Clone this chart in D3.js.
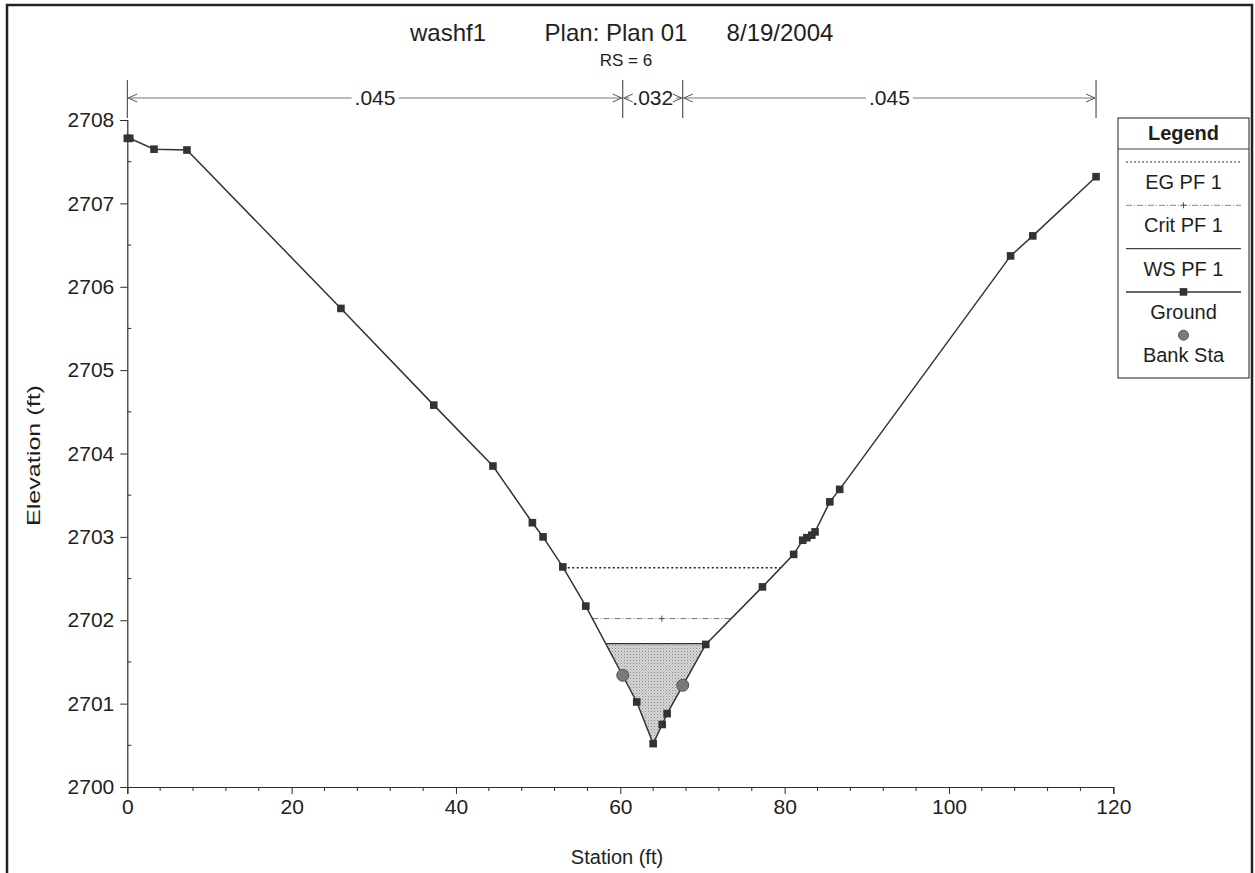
<!DOCTYPE html>
<html>
<head>
<meta charset="utf-8">
<script src="https://cdn.jsdelivr.net/npm/d3@7/dist/d3.min.js"></script>
<style>
  html, body { margin: 0; padding: 0; background: #fff; }
  svg { display: block; font-family: "Liberation Sans", Arial, sans-serif; }
</style>
</head>
<body>
<svg id="chart" width="1255" height="873"></svg>
<script>
// Cross section RS = 6: ground survey points (station ft, elevation ft)
const groundStation = [0, 0.3, 3.25, 7.26, 26.0, 37.3, 44.5, 49.3, 50.6, 53.0, 55.8, 62.0, 64.0, 65.1, 65.7, 70.4, 77.3, 81.1, 82.2, 82.7, 83.3, 83.7, 85.5, 86.7, 107.5, 110.2, 117.9];
const groundElev    = [2707.78, 2707.78, 2707.65, 2707.64, 2705.74, 2704.58, 2703.85, 2703.17, 2703.00, 2702.64, 2702.17, 2701.02, 2700.52, 2700.75, 2700.88, 2701.71, 2702.40, 2702.79, 2702.96, 2702.99, 2703.02, 2703.06, 2703.42, 2703.57, 2706.37, 2706.61, 2707.32];

// Bank stations
const bankStation = [60.3, 67.6];
const bankElev    = [2701.34, 2701.22];

// Profile PF 1 water levels
const wsElev   = 2701.72;  // WS PF 1
const critElev = 2702.02;  // Crit PF 1
const egElev   = 2702.63;  // EG PF 1

// Manning's n breaks
const nBreaks = [0, 60.3, 67.6, 117.9];
const nValues = [".045", ".032", ".045"];

// Axis ticks
const xTicks = [0, 20, 40, 60, 80, 100, 120];
const yTicks = [2700, 2701, 2702, 2703, 2704, 2705, 2706, 2707, 2708];

const legendItems = ["EG PF 1", "Crit PF 1", "WS PF 1", "Ground", "Bank Sta"];

const svg = d3.select("#chart");
const ink = "#2b2b2b";
const txt = "#1e1e1e";

const x = d3.scaleLinear().domain([0, 120]).range([127.3, 1113.3]);
const y = d3.scaleLinear().domain([2700, 2708]).range([787, 120]);

const ground = groundStation.map((s, i) => ({ s, e: groundElev[i] }));

// Where a level line meets the ground on each side of the thalweg
function crossings(level) {
  const minI = d3.minIndex(ground, d => d.e);
  let left = ground[0].s, right = ground[ground.length - 1].s;
  for (let i = minI; i > 0; i--) {
    const a = ground[i - 1], b = ground[i];
    if (a.e >= level && b.e <= level) { left = a.s + (b.s - a.s) * (a.e - level) / (a.e - b.e); break; }
  }
  for (let i = minI; i < ground.length - 1; i++) {
    const a = ground[i], b = ground[i + 1];
    if (a.e <= level && b.e >= level) { right = a.s + (b.s - a.s) * (level - a.e) / (b.e - a.e); break; }
  }
  return [left, right];
}

// Outer frame
svg.append("rect").attr("x", 7).attr("y", 5).attr("width", 1245).attr("height", 880)
  .attr("fill", "none").attr("stroke", "#222").attr("stroke-width", 2.5);

// Stipple pattern for the wetted area
const defs = svg.append("defs");
const pat = defs.append("pattern").attr("id", "stipple").attr("patternUnits", "userSpaceOnUse")
  .attr("width", 3).attr("height", 3);
pat.append("rect").attr("width", 3).attr("height", 3).attr("fill", "#d6d6d6");
pat.append("rect").attr("x", 0).attr("y", 0).attr("width", 1).attr("height", 1).attr("fill", "#8a8a8a");
pat.append("rect").attr("x", 1.5).attr("y", 1.5).attr("width", 1).attr("height", 1).attr("fill", "#a8a8a8");

// Title
const title = svg.append("g").attr("font-size", 24).attr("fill", txt).attr("text-anchor", "middle");
title.append("text").attr("x", 448).attr("y", 41).text("washf1");
title.append("text").attr("x", 616).attr("y", 41).text("Plan: Plan 01");
title.append("text").attr("x", 780).attr("y", 41).text("8/19/2004");
svg.append("text").attr("x", 626).attr("y", 66).attr("text-anchor", "middle")
  .attr("font-size", 17).attr("fill", txt).text("RS = 6");

// Axes
const xAxis = d3.axisBottom(x).tickValues(xTicks).tickSize(7).tickPadding(5).tickFormat(d3.format("d"));
const gx = svg.append("g").attr("transform", `translate(0,${y(2700)})`).call(xAxis);
gx.select(".domain").attr("stroke", ink).attr("stroke-width", 1.2);
gx.selectAll(".tick line").attr("stroke", ink);
gx.selectAll(".tick text").attr("font-size", 21).attr("fill", txt).attr("font-family", "Liberation Sans, Arial, sans-serif");
const xMinor = d3.range(0, 121, 4).filter(v => v % 20 !== 0);
svg.append("g").selectAll("line").data(xMinor).join("line")
  .attr("x1", d => x(d)).attr("x2", d => x(d)).attr("y1", y(2700)).attr("y2", y(2700) + 4)
  .attr("stroke", ink);

const yAxis = d3.axisLeft(y).tickValues(yTicks).tickSize(7).tickPadding(6).tickFormat(d3.format("d"));
const gy = svg.append("g").attr("transform", `translate(${x(0)},0)`).call(yAxis);
gy.select(".domain").attr("stroke", ink).attr("stroke-width", 1.2);
gy.selectAll(".tick line").attr("stroke", ink);
gy.selectAll(".tick text").attr("font-size", 21).attr("fill", txt).attr("font-family", "Liberation Sans, Arial, sans-serif");
const yMinor = d3.range(2700.5, 2708, 1);
svg.append("g").selectAll("line").data(yMinor).join("line")
  .attr("x1", x(0)).attr("x2", x(0) + 4).attr("y1", d => y(d)).attr("y2", d => y(d))
  .attr("stroke", ink);

svg.append("text").attr("transform", `translate(40,${(y(2700) + y(2708)) / 2 + 2}) rotate(-90)`)
  .attr("text-anchor", "middle").attr("font-size", 18).attr("fill", txt)
  .attr("textLength", 141).attr("lengthAdjust", "spacingAndGlyphs").text("Elevation (ft)");
svg.append("text").attr("x", 617).attr("y", 864).attr("text-anchor", "middle")
  .attr("font-size", 20).attr("fill", txt).text("Station (ft)");

// Manning's n band
const nY = 98;
const nG = svg.append("g");
nBreaks.forEach(b => {
  nG.append("line").attr("x1", x(b)).attr("x2", x(b)).attr("y1", 80).attr("y2", 118)
    .attr("stroke", "#333").attr("stroke-width", 1);
});
function arrowHead(g, px, dir) {
  g.append("path")
    .attr("d", `M${px + dir * 9},${nY - 4} L${px},${nY} L${px + dir * 9},${nY + 4}`)
    .attr("fill", "none").attr("stroke", "#555").attr("stroke-width", 1);
}
nValues.forEach((v, i) => {
  const a = x(nBreaks[i]) + 1, b = x(nBreaks[i + 1]) - 1;
  const mid = (a + b) / 2;
  const t = nG.append("text").attr("x", mid).attr("y", nY + 7).attr("text-anchor", "middle")
    .attr("font-size", 21).attr("fill", txt).text(v);
  const w = t.node().getComputedTextLength() / 2 + 3;
  nG.append("line").attr("x1", a).attr("x2", mid - w).attr("y1", nY).attr("y2", nY).attr("stroke", "#777");
  nG.append("line").attr("x1", mid + w).attr("x2", b).attr("y1", nY).attr("y2", nY).attr("stroke", "#777");
  arrowHead(nG, a, 1);
  arrowHead(nG, b, -1);
});

// Wetted area under WS PF 1
const [wsL, wsR] = crossings(wsElev);
const wetted = [{ s: wsL, e: wsElev }]
  .concat(ground.filter(d => d.s > wsL && d.s < wsR))
  .concat([{ s: wsR, e: wsElev }]);
svg.append("path").datum(wetted)
  .attr("d", d3.line().x(d => x(d.s)).y(d => y(d.e)))
  .attr("fill", "url(#stipple)").attr("stroke", "none");
svg.append("line").attr("x1", x(wsL)).attr("x2", x(wsR)).attr("y1", y(wsElev)).attr("y2", y(wsElev))
  .attr("stroke", "#333").attr("stroke-width", 1.2);

// Critical depth line
const [crL, crR] = crossings(critElev);
svg.append("line").attr("x1", x(crL)).attr("x2", x(crR)).attr("y1", y(critElev)).attr("y2", y(critElev))
  .attr("stroke", "#777").attr("stroke-width", 1).attr("stroke-dasharray", "6,2,1,2");
const crMid = x((crL + crR) / 2);
svg.append("path").attr("d", `M${crMid - 3},${y(critElev)} h6 M${crMid},${y(critElev) - 3} v6`)
  .attr("stroke", "#555").attr("stroke-width", 1);

// Energy grade line
const [egL, egR] = crossings(egElev);
svg.append("line").attr("x1", x(egL)).attr("x2", x(egR)).attr("y1", y(egElev)).attr("y2", y(egElev))
  .attr("stroke", "#222").attr("stroke-width", 1.6).attr("stroke-dasharray", "2,2.5");

// Ground line and points
svg.append("path").datum(ground)
  .attr("d", d3.line().x(d => x(d.s)).y(d => y(d.e)))
  .attr("fill", "none").attr("stroke", "#333").attr("stroke-width", 1.5);
svg.append("g").selectAll("rect").data(ground).join("rect")
  .attr("x", d => x(d.s) - 3.8).attr("y", d => y(d.e) - 3.8)
  .attr("width", 7.6).attr("height", 7.6).attr("fill", "#333");

// Bank stations
svg.append("g").selectAll("circle").data(bankStation.map((s, i) => ({ s, e: bankElev[i] }))).join("circle")
  .attr("cx", d => x(d.s)).attr("cy", d => y(d.e)).attr("r", 6)
  .attr("fill", "#7a7a7a").attr("stroke", "#555").attr("stroke-width", 1);

// Legend
const lg = svg.append("g").attr("transform", "translate(1118,118)");
lg.append("rect").attr("width", 131).attr("height", 260).attr("fill", "#fff")
  .attr("stroke", "#444").attr("stroke-width", 1.2);
lg.append("text").attr("x", 65.5).attr("y", 22).attr("text-anchor", "middle")
  .attr("font-size", 20).attr("font-weight", "bold").attr("fill", txt).text("Legend");
lg.append("line").attr("x1", 0).attr("x2", 131).attr("y1", 31).attr("y2", 31).attr("stroke", "#444");
const rowH = 43.3;
legendItems.forEach((name, i) => {
  const ly = 44 + i * rowH;
  const cx = 65.5;
  if (name === "EG PF 1") {
    lg.append("line").attr("x1", 8).attr("x2", 123).attr("y1", ly).attr("y2", ly)
      .attr("stroke", "#333").attr("stroke-width", 1.2).attr("stroke-dasharray", "2,2");
  } else if (name === "Crit PF 1") {
    lg.append("line").attr("x1", 8).attr("x2", 123).attr("y1", ly).attr("y2", ly)
      .attr("stroke", "#888").attr("stroke-width", 1).attr("stroke-dasharray", "6,2,1,2");
    lg.append("path").attr("d", `M${cx - 3},${ly} h6 M${cx},${ly - 3} v6`).attr("stroke", "#555");
  } else if (name === "WS PF 1") {
    lg.append("line").attr("x1", 8).attr("x2", 123).attr("y1", ly).attr("y2", ly)
      .attr("stroke", "#444").attr("stroke-width", 1.2);
  } else if (name === "Ground") {
    lg.append("line").attr("x1", 8).attr("x2", 123).attr("y1", ly).attr("y2", ly)
      .attr("stroke", "#333").attr("stroke-width", 1.5);
    lg.append("rect").attr("x", cx - 3.8).attr("y", ly - 3.8).attr("width", 7.6).attr("height", 7.6).attr("fill", "#333");
  } else {
    lg.append("circle").attr("cx", cx).attr("cy", ly).attr("r", 5)
      .attr("fill", "#7a7a7a").attr("stroke", "#555");
  }
  lg.append("text").attr("x", cx).attr("y", ly + 27).attr("text-anchor", "middle")
    .attr("font-size", 20).attr("fill", txt).text(name);
});
</script>
</body>
</html>
